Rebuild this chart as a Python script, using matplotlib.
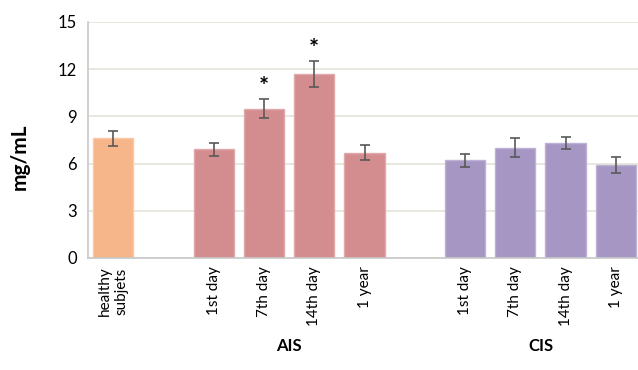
import matplotlib.pyplot as plt

plt.rcParams['font.family'] = ['Lato', 'DejaVu Sans']

# bar slots (gaps at 1 and 6 split the groups)
positions = [0, 2, 3, 4, 5, 7, 8, 9, 10]
tick_labels = ["healthy\nsubjets", "1st day", "7th day", "14th day", "1 year",
               "1st day", "7th day", "14th day", "1 year"]
means = [7.6, 6.9, 9.5, 11.7, 6.7, 6.2, 7.0, 7.3, 5.9]
errors = [0.5, 0.4, 0.6, 0.8, 0.5, 0.4, 0.6, 0.4, 0.5]
colors = ["#F7B58A"] + ["#D48D8F"] * 4 + ["#A696C4"] * 4
edges = ["#FAC9A8"] + ["#E0A9AB"] * 4 + ["#BDB1D6"] * 4
significant = [2, 3]  # indices marked with *

groups = ["AIS", "CIS"]
group_centers = [3.5, 8.5]

fig = plt.figure(figsize=(6.38, 3.70), dpi=100)
ax = fig.add_axes([88 / 638, (370 - 258) / 370, (641 - 88) / 638, 236 / 370])

ax.bar(positions, means, width=0.8, color=colors, edgecolor=edges, linewidth=1.0, zorder=2)
ax.errorbar(positions, means, yerr=errors, fmt="none", ecolor="#595959",
            elinewidth=1.2, capsize=3.5, capthick=1.2, zorder=3)

for i in significant:
    ax.text(positions[i], means[i] + errors[i] + 0.75, "*", ha="center", va="center",
            fontsize=17, fontweight="bold")

ax.set_xlim(-0.5, 10.5)
ax.set_ylim(0, 15)
ax.set_yticks(range(0, 16, 3))
ax.tick_params(axis="y", length=0, labelsize=12, pad=8)
ax.set_xticks(positions)
ax.set_xticklabels(tick_labels, rotation=90, fontsize=11, linespacing=1.15)
ax.tick_params(axis="x", length=0, pad=6)
ax.set_ylabel("mg/mL", fontsize=15, fontweight="bold")
ax.yaxis.set_label_coords(-0.105, 0.43)

ax.grid(axis="y", color="#E4E4D8", linewidth=1.2, zorder=0)
ax.set_axisbelow(True)
for side in ["top", "right"]:
    ax.spines[side].set_visible(False)
ax.spines["left"].set_color("#C8C8C8")
ax.spines["bottom"].set_color("#C8C8C8")
ax.spines["left"].set_linewidth(1.2)
ax.spines["bottom"].set_linewidth(1.2)

for name, cx in zip(groups, group_centers):
    ax.text(cx, -5.6, name, ha="center", va="center", fontsize=12,
            fontweight="bold", clip_on=False)

fig.savefig("out.png", dpi=100)
